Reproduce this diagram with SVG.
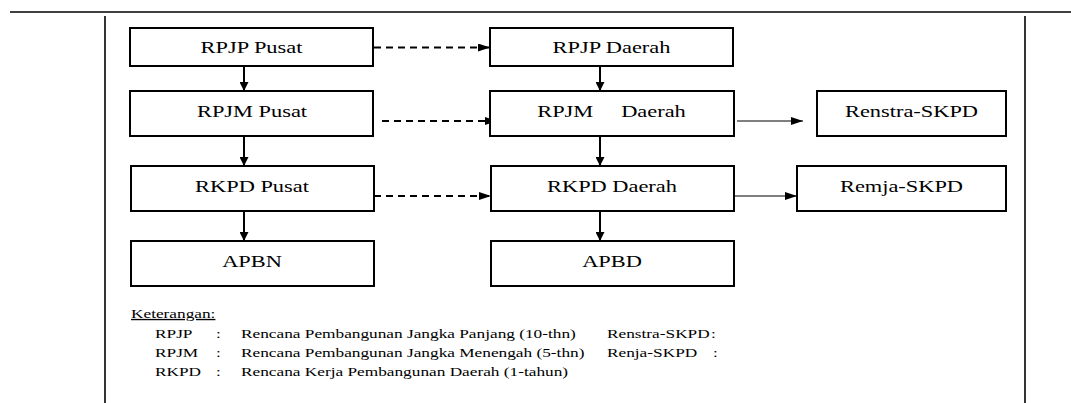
<svg xmlns="http://www.w3.org/2000/svg" width="1071" height="403" viewBox="0 0 1071 403">
  <style>
    .box { fill: #ffffff; stroke: #000000; stroke-width: 2; }
    .lbl { font-family: "Liberation Serif", "DejaVu Serif", serif; font-size: 17.5px; fill: #000000; text-anchor: middle; white-space: pre; }
    .leg { font-family: "Liberation Serif", "DejaVu Serif", serif; font-size: 13.5px; fill: #000000; white-space: pre; }
    .frame { stroke: #000000; stroke-width: 1.6; fill: none; }
    .down { stroke: #000000; stroke-width: 2; fill: none; marker-end: url(#headDown); }
    .dash { stroke: #000000; stroke-width: 2; fill: none; stroke-dasharray: 7 5; marker-end: url(#headSide); }
    .thin { stroke: #000000; stroke-width: 1.1; fill: none; marker-end: url(#headSide); }
  </style>
  <defs>
    <marker id="headDown" viewBox="0 0 9 9" refX="9" refY="4.5" markerWidth="9" markerHeight="9" markerUnits="userSpaceOnUse" orient="auto">
      <path d="M0,0 L9,4.5 L0,9 z" fill="#000000"/>
    </marker>
    <marker id="headSide" viewBox="0 0 12 8" refX="12" refY="4" markerWidth="12" markerHeight="8" markerUnits="userSpaceOnUse" orient="auto">
      <path d="M0,0 L12,4 L0,8 z" fill="#000000"/>
    </marker>
  </defs>

  <rect width="1071" height="403" fill="#ffffff"/>

  <!-- page frame -->
  <g id="frame">
    <line class="frame" x1="10" y1="12" x2="1071" y2="12" stroke-width="2"/>
    <line class="frame" x1="105" y1="16" x2="105" y2="403"/>
    <line class="frame" x1="1025" y1="16" x2="1025" y2="403"/>
  </g>

  <!-- connectors -->
  <g id="connectors">
    <line class="down" x1="244" y1="66" x2="244" y2="91"/>
    <line class="down" x1="244" y1="136" x2="244" y2="166"/>
    <line class="down" x1="244" y1="211" x2="244" y2="241"/>
    <line class="down" x1="600" y1="66" x2="600" y2="91"/>
    <line class="down" x1="600" y1="136" x2="600" y2="166"/>
    <line class="down" x1="600" y1="211" x2="600" y2="241"/>
    <line class="dash" x1="374" y1="47.5" x2="490" y2="47.5"/>
    <line class="dash" x1="382" y1="121" x2="497" y2="121"/>
    <line class="dash" x1="374" y1="196" x2="491" y2="196"/>
    <line class="thin" x1="737" y1="121" x2="803" y2="121"/>
    <line class="thin" x1="734" y1="196" x2="797" y2="196"/>
  </g>

  <!-- central plans -->
  <g id="rpjp-pusat">
    <rect class="box" x="130" y="28" width="243" height="38"/>
    <text class="lbl" transform="translate(251.5,53.3) scale(1.28,1)">RPJP Pusat</text>
  </g>
  <g id="rpjm-pusat">
    <rect class="box" x="130" y="91" width="243" height="45"/>
    <text class="lbl" transform="translate(252,117.3) scale(1.28,1)">RPJM Pusat</text>
  </g>
  <g id="rkpd-pusat">
    <rect class="box" x="131" y="166" width="243" height="45"/>
    <text class="lbl" transform="translate(252,191.7) scale(1.28,1)">RKPD Pusat</text>
  </g>
  <g id="apbn">
    <rect class="box" x="131" y="241" width="243" height="45"/>
    <text class="lbl" transform="translate(252,266.7) scale(1.28,1)">APBN</text>
  </g>

  <!-- regional plans -->
  <g id="rpjp-daerah">
    <rect class="box" x="490" y="28" width="243" height="38"/>
    <text class="lbl" transform="translate(611.5,53.3) scale(1.28,1)">RPJP Daerah</text>
  </g>
  <g id="rpjm-daerah">
    <rect class="box" x="490" y="91" width="244" height="45"/>
    <text class="lbl" xml:space="preserve" transform="translate(611.5,116.7) scale(1.28,1)">RPJM     Daerah</text>
  </g>
  <g id="rkpd-daerah">
    <rect class="box" x="491" y="166" width="243" height="45"/>
    <text class="lbl" transform="translate(612,191.7) scale(1.28,1)">RKPD Daerah</text>
  </g>
  <g id="apbd">
    <rect class="box" x="491" y="241" width="243" height="45"/>
    <text class="lbl" transform="translate(612,266.7) scale(1.28,1)">APBD</text>
  </g>

  <!-- agency plans -->
  <g id="renstra-skpd">
    <rect class="box" x="817" y="91" width="189" height="45"/>
    <text class="lbl" transform="translate(911.5,116.7) scale(1.28,1)">Renstra-SKPD</text>
  </g>
  <g id="remja-skpd">
    <rect class="box" x="797" y="166" width="209" height="45"/>
    <text class="lbl" transform="translate(901.5,191.7) scale(1.28,1)">Remja-SKPD</text>
  </g>

  <!-- legend -->
  <g id="legend">
    <text class="leg" transform="translate(131,318) scale(1.28,1)" text-decoration="underline">Keterangan:</text>

    <text class="leg" transform="translate(155,338) scale(1.28,1)">RPJP</text>
    <text class="leg" transform="translate(216,338) scale(1.28,1)">:</text>
    <text class="leg" transform="translate(241,338) scale(1.28,1)">Rencana Pembangunan Jangka Panjang (10-thn)</text>
    <text class="leg" transform="translate(607,338) scale(1.28,1)">Renstra-SKPD</text>
    <text class="leg" transform="translate(711,338) scale(1.28,1)">:</text>

    <text class="leg" transform="translate(155,357) scale(1.28,1)">RPJM</text>
    <text class="leg" transform="translate(216,357) scale(1.28,1)">:</text>
    <text class="leg" transform="translate(241,357) scale(1.28,1)">Rencana Pembangunan Jangka Menengah (5-thn)</text>
    <text class="leg" transform="translate(607,357) scale(1.28,1)">Renja-SKPD</text>
    <text class="leg" transform="translate(713,357) scale(1.28,1)">:</text>

    <text class="leg" transform="translate(155,376) scale(1.28,1)">RKPD</text>
    <text class="leg" transform="translate(216,376) scale(1.28,1)">:</text>
    <text class="leg" transform="translate(241,376) scale(1.28,1)">Rencana Kerja Pembangunan Daerah (1-tahun)</text>
  </g>
</svg>
